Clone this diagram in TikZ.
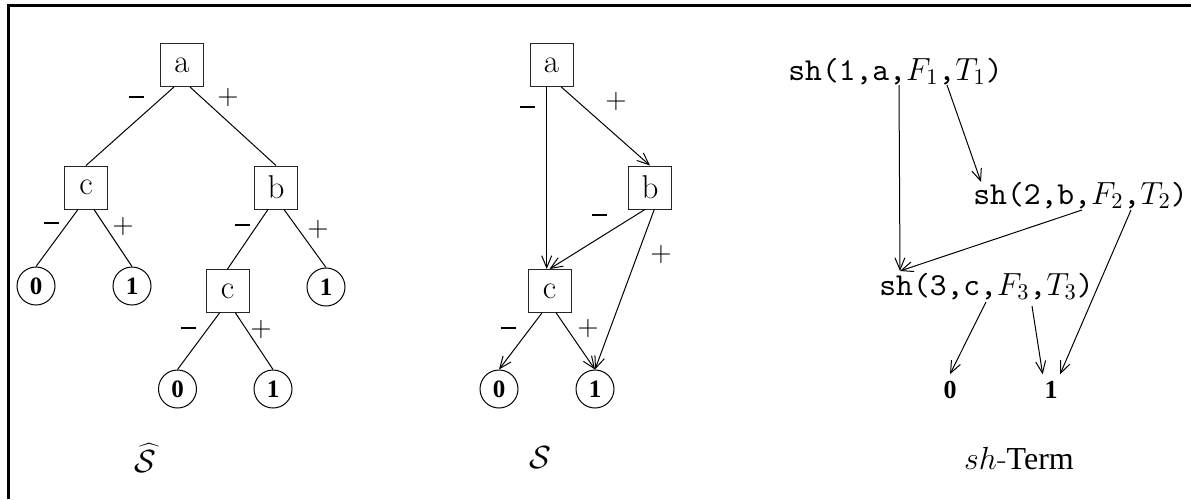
\RequirePackage{fix-cm}
\documentclass[tikz,border=0pt]{standalone}
\usepackage{fontspec}
\setmonofont{lmmono10-regular.otf}
\newfontfamily\timesfont{Liberation Serif}
\usetikzlibrary{arrows.meta}

% thick minus used as edge label
\newcommand{\negsgn}{\rule[0.22em]{7.5pt}{1.1pt}}

\tikzset{
  var/.style={draw=black!85, line width=0.5pt, minimum size=21.5pt, inner sep=0pt,
    font=\fontsize{16.5}{18}\selectfont},
  leaf/.style={draw, circle, line width=0.5pt, minimum size=19pt, inner sep=0pt,
    font=\timesfont\bfseries\fontsize{12.5}{14}\selectfont},
  sgn/.style={inner sep=0pt, font=\fontsize{14}{16}\selectfont},
  term/.style={anchor=base west, inner sep=0pt, font=\fontsize{16}{18}\selectfont},
  val/.style={font=\timesfont\bfseries\fontsize{13}{15}\selectfont},
  ttl/.style={font=\fontsize{16}{18}\selectfont},
  edge/.style={line width=0.5pt},
  dag/.style={line width=0.5pt, -{Straight Barb[length=6pt,width=5pt]}},
}

\begin{document}
\begin{tikzpicture}[x=0.5pt, y=-0.5pt]
    \useasboundingbox (0,0) rectangle (1191,499);
    % frame, open on the right and at the bottom
    \draw[line width=1.5pt] (8.5,499) -- (8.5,5.5) -- (1191,5.5);

    % Decision tree
    \node[var] (a1) at (182,65) {a};
    \node[var] (c1) at (86,187.5) {c};
    \node[var] (b1) at (276,187.5) {b};
    \node[leaf] (zero1) at (36,286) {0};
    \node[leaf] (one1) at (132,286) {1};
    \node[var] (c1b) at (227.5,291) {c};
    \node[leaf] (one1b) at (326,287) {1};
    \node[leaf] (zero1c) at (177.5,389) {0};
    \node[leaf] (one1c) at (273,389) {1};

    \draw[edge] (a1.250) -- (c1.north);
    \draw[edge] (a1.290) -- (b1.north);
    \draw[edge] (c1.250) -- (zero1.north);
    \draw[edge] (c1.290) -- (one1.north);
    \draw[edge] (b1.250) -- (c1b.north);
    \draw[edge] (b1.290) -- (one1b.north);
    \draw[edge] (c1b.250) -- (zero1c.north);
    \draw[edge] (c1b.290) -- (one1c.north);

    \node[sgn] (ma1) at (136,100) {\negsgn};
    \node[sgn] (pa1) at (228,97) {$+$};
    \node[sgn] (mc1) at (52,226) {\negsgn};
    \node[sgn] (pc1) at (123,226) {$+$};
    \node[sgn] (mb1) at (242,228) {\negsgn};
    \node[sgn] (pb1) at (318,229) {$+$};
    \node[sgn] (mc1b) at (188,331) {\negsgn};
    \node[sgn] (pc1b) at (261,329) {$+$};

    \node[ttl] (tree) at (145,458) {$\widehat{\mathcal{S}}$};

    % Shared graph
    \node[var] (a2) at (551.5,65) {a};
    \node[var] (b2) at (650,187.5) {b};
    \node[var] (c2) at (549.5,291) {c};
    \node[leaf] (zero2) at (499,389) {0};
    \node[leaf] (one2) at (595,389) {1};

    \draw[dag] ([xshift=-2.4pt]a2.south) -- ([xshift=-2.4pt]a2.south |- c2.north);
    \draw[dag] (a2.294) -- (b2.north);
    \draw[dag] (b2.257) -- (c2.north);
    \draw[dag] (b2.281) -- (one2.north);
    \draw[dag] (c2.251) -- (zero2.north);
    \draw[dag] (c2.287) -- (one2.north);

    \node[sgn] (ma2) at (527,110) {\negsgn};
    \node[sgn] (pa2) at (616,101) {$+$};
    \node[sgn] (mb2) at (599,218) {\negsgn};
    \node[sgn] (pb2) at (661,254) {$+$};
    \node[sgn] (mc2) at (508,331) {\negsgn};
    \node[sgn] (pc2) at (588,328) {$+$};

    \node[ttl] (graph) at (540,458) {$\mathcal{S}$};

    % sh-terms
    \node[term] (t1) at (788,80) {\texttt{sh(1,a,}$F_1$\texttt{,}$T_1$\texttt{)}};
    \node[term] (t2) at (973,204) {\texttt{sh(2,b,}$F_2$\texttt{,}$T_2$\texttt{)}};
    \node[term] (t3) at (879,295) {\texttt{sh(3,c,}$F_3$\texttt{,}$T_3$\texttt{)}};
    \node[val] (zero3) at (950,390) {0};
    \node[val] (one3) at (1051,390) {1};

    \coordinate (t1F) at (899,85);
    \coordinate (t1T) at (947,85);
    \coordinate (t2F) at (1082,210);
    \coordinate (t2T) at (1131,210);
    \coordinate (t3F) at (986,302);
    \coordinate (t3T) at (1032,306);
    \coordinate (t2in) at (981,182);
    \coordinate (t3in) at (900,271);

    \draw[dag] (t1F) -- (t3in);
    \draw[dag] (t1T) -- (t2in);
    \draw[dag] (t2F) -- (t3in);
    \draw[dag] (t2T) -- (one3.60);
    \draw[dag] (t3F) -- (zero3.north);
    \draw[dag] (t3T) -- (one3.118);

    \node[ttl] (shterm) at (1019,459) {$sh$-{\timesfont Term}};
\end{tikzpicture}
\end{document}
